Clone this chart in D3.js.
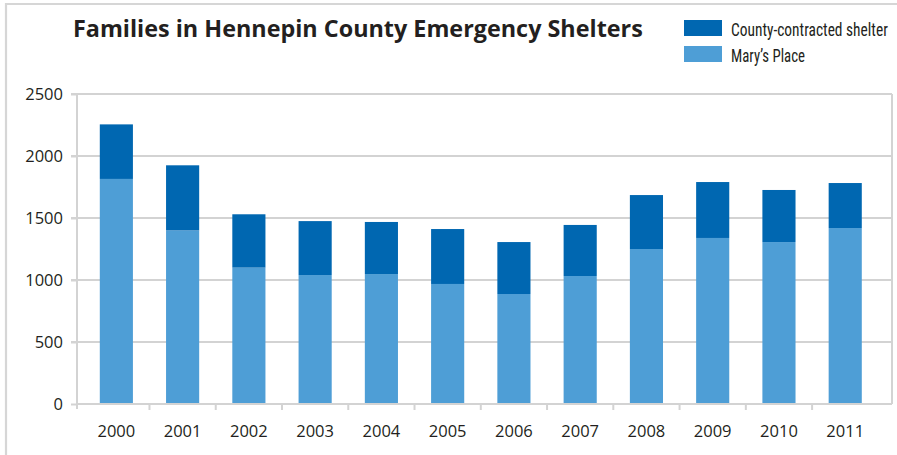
<!DOCTYPE html>
<html>
<head>
<meta charset="utf-8">
<script src="https://cdn.jsdelivr.net/npm/d3@7"></script>
<style>
  html, body { margin: 0; padding: 0; background: #fff; }
  svg { display: block; }
</style>
</head>
<body>
<svg id="chart" width="897" height="455"></svg>
<script>
const years = ["2000","2001","2002","2003","2004","2005","2006","2007","2008","2009","2010","2011"];
const marysPlace = [1815, 1400, 1100, 1040, 1048, 968, 887, 1032, 1250, 1339, 1306, 1419];
const countyShelter = [440, 525, 430, 435, 420, 443, 419, 412, 435, 451, 420, 363];
const yTicks = [0, 500, 1000, 1500, 2000, 2500];
const seriesNames = ["County-contracted shelter", "Mary\u2019s Place"];
const titleText = "Families in Hennepin County Emergency Shelters";

(function () {
const colDark = "#0067b1";
const colLight = "#4e9ed6";
const gridCol = "#d3d3d3";
const textCol = "#231f20";
const font = "'Open Sans', 'Noto Sans', sans-serif";

const svg = d3.select("#chart");

// outer frame (top and left edges visible)
svg.append("path")
  .attr("d", "M6,455 L6,4 L897,4")
  .attr("fill", "none").attr("stroke", "#d6d6d6").attr("stroke-width", 2.2);

const pL = 77, pR = 892, pT = 94, pB = 404;

const x = d3.scaleBand().domain(years).range([pL, pR])
  .paddingInner(0.5).paddingOuter(0.4).align(0.43);
const y = d3.scaleLinear().domain([0, 2500]).range([pB, pT]);

// gridlines
svg.append("g").selectAll("line").data(yTicks.filter(d => d > 0)).join("line")
  .attr("x1", pL - 6).attr("x2", pR)
  .attr("y1", d => y(d)).attr("y2", d => y(d))
  .attr("stroke", gridCol).attr("stroke-width", 2);

// right border of plot
svg.append("line").attr("x1", pR).attr("x2", pR).attr("y1", pT).attr("y2", pB)
  .attr("stroke", gridCol).attr("stroke-width", 2);

// stacked data
const rows = years.map((yr, i) => ({ year: yr, mary: marysPlace[i], county: countyShelter[i] }));
const stack = d3.stack().keys(["mary", "county"])(rows);
const colors = { mary: colLight, county: colDark };

svg.append("g").selectAll("g").data(stack).join("g")
  .attr("fill", s => colors[s.key])
  .selectAll("rect").data(s => s).join("rect")
  .attr("x", d => x(d.data.year))
  .attr("width", x.bandwidth())
  .attr("y", d => y(d[1]))
  .attr("height", d => y(d[0]) - y(d[1]));

// y axis
const yAxis = svg.append("g").attr("transform", `translate(${pL},0)`)
  .call(d3.axisLeft(y).tickValues(yTicks).tickSize(6).tickPadding(8).tickFormat(d3.format("d")));
yAxis.select(".domain").remove();
yAxis.selectAll(".tick line").attr("stroke", gridCol).attr("stroke-width", 2);
yAxis.selectAll(".tick text").attr("fill", textCol).style("font-family", font).style("font-size", "16.5px");

// vertical axis line
svg.append("line").attr("x1", pL).attr("x2", pL).attr("y1", pT).attr("y2", pB + 5)
  .attr("stroke", gridCol).attr("stroke-width", 2);

// x axis baseline
svg.append("line").attr("x1", pL).attr("x2", pR).attr("y1", pB).attr("y2", pB)
  .attr("stroke", gridCol).attr("stroke-width", 2);

// x ticks between bars
const gap = x.step() - x.bandwidth();
svg.append("g").selectAll("line").data(years.slice(0, -1)).join("line")
  .attr("x1", d => x(d) + x.bandwidth() + gap / 2)
  .attr("x2", d => x(d) + x.bandwidth() + gap / 2)
  .attr("y1", pB).attr("y2", pB + 6)
  .attr("stroke", gridCol).attr("stroke-width", 2);

// x labels
svg.append("g").selectAll("text").data(years).join("text")
  .attr("x", d => x(d) + x.bandwidth() / 2)
  .attr("y", 437)
  .attr("text-anchor", "middle")
  .attr("fill", textCol)
  .style("font-family", font).style("font-size", "16.5px")
  .text(d => d);

// title
const title = svg.append("text")
  .attr("x", 73).attr("y", 37)
  .attr("fill", textCol)
  .style("font-family", font).style("font-weight", "bold").style("font-size", "24px")
  .text(titleText);
{
  const w = title.node().getComputedTextLength();
  const target = 570;
  title.style("font-size", (24 * target / w).toFixed(2) + "px");
}

// legend (condensed look via horizontal scaling)
const legend = svg.append("g");
const legendItems = [{ name: seriesNames[0], color: colDark, w: 157 }, { name: seriesNames[1], color: colLight, w: 74 }];
legendItems.forEach((it, i) => {
  const g = legend.append("g").attr("transform", `translate(684,${20 + i * 26})`);
  g.append("rect").attr("width", 38).attr("height", 16).attr("fill", it.color);
  const t = g.append("text").attr("x", 0).attr("y", 0)
    .attr("fill", textCol)
    .style("font-family", "'Liberation Sans Narrow', 'Roboto Condensed', 'Open Sans', sans-serif")
    .style("font-size", "19px")
    .text(it.name);
  const nat = t.node().getComputedTextLength();
  t.attr("transform", `translate(47,15.5) scale(${(it.w / nat).toFixed(4)},1)`);
});
})();
</script>
</body>
</html>
